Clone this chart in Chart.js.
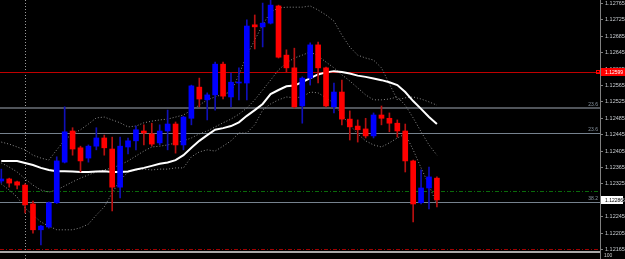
<!DOCTYPE html>
<html>
<head>
<meta charset="utf-8">
<script src="https://cdn.jsdelivr.net/npm/chart.js@4/dist/chart.umd.min.js"></script>
<style>
html, body { margin: 0; padding: 0; background: #000; overflow: hidden; }
#chart { display: block; }
</style>
</head>
<body>
<canvas id="chart" width="625" height="259"></canvas>
<script>
'use strict';

// candles, oldest first
var open = [1.12332, 1.12337, 1.12330, 1.12322, 1.12276, 1.12213, 1.12220, 1.12279, 1.12378, 1.12454,
  1.12413, 1.12388, 1.12417, 1.12437, 1.12410, 1.12317, 1.12415, 1.12430, 1.12454, 1.12447,
  1.12425, 1.12454, 1.12471, 1.12420, 1.12485, 1.12561, 1.12530, 1.12542, 1.12617, 1.12537,
  1.12571, 1.12571, 1.12713, 1.12708, 1.12717, 1.12759, 1.12639, 1.12608, 1.12515, 1.12583,
  1.12664, 1.12608, 1.12513, 1.12549, 1.12483, 1.12466, 1.12459, 1.12442, 1.12493, 1.12485,
  1.12473, 1.12454, 1.12381, 1.12279, 1.12315, 1.12339];
var high = [1.12361, 1.12339, 1.12332, 1.12325, 1.12283, 1.12224, 1.12281, 1.12391, 1.12513, 1.12462,
  1.12417, 1.12420, 1.12462, 1.12444, 1.12439, 1.12439, 1.12437, 1.12466, 1.12469, 1.12473,
  1.12469, 1.12505, 1.12476, 1.12490, 1.12566, 1.12583, 1.12547, 1.12622, 1.12622, 1.12595,
  1.12608, 1.12725, 1.12737, 1.12766, 1.12780, 1.12761, 1.12652, 1.12656, 1.12586, 1.12669,
  1.12671, 1.12610, 1.12571, 1.12578, 1.12503, 1.12481, 1.12485, 1.12498, 1.12515, 1.12498,
  1.12481, 1.12471, 1.12383, 1.12359, 1.12366, 1.12342];
var low = [1.12327, 1.12317, 1.12313, 1.12254, 1.12205, 1.12176, 1.12217, 1.12277, 1.12376, 1.12395,
  1.12354, 1.12378, 1.12408, 1.12395, 1.12259, 1.12291, 1.12398, 1.12408, 1.12420, 1.12417,
  1.12420, 1.12408, 1.12400, 1.12408, 1.12469, 1.12513, 1.12481, 1.12505, 1.12532, 1.12513,
  1.12530, 1.12530, 1.12654, 1.12659, 1.12715, 1.12632, 1.12598, 1.12510, 1.12473, 1.12566,
  1.12571, 1.12513, 1.12498, 1.12469, 1.12432, 1.12427, 1.12437, 1.12437, 1.12469, 1.12452,
  1.12439, 1.12354, 1.12232, 1.12276, 1.12264, 1.12269];
var close = [1.12337, 1.12327, 1.12322, 1.12274, 1.12213, 1.12222, 1.12279, 1.12381, 1.12452, 1.12410,
  1.12381, 1.12417, 1.12437, 1.12413, 1.12317, 1.12417, 1.12430, 1.12457, 1.12449, 1.12422,
  1.12454, 1.12471, 1.12420, 1.12488, 1.12564, 1.12532, 1.12542, 1.12617, 1.12539, 1.12573,
  1.12573, 1.12710, 1.12708, 1.12717, 1.12761, 1.12634, 1.12608, 1.12513, 1.12583, 1.12664,
  1.12608, 1.12515, 1.12549, 1.12483, 1.12464, 1.12457, 1.12442, 1.12493, 1.12485, 1.12473,
  1.12454, 1.12381, 1.12276, 1.12315, 1.12342, 1.12286];

// moving average (white) and the three band lines (dotted)
var ma = [1.12381, 1.12381, 1.12381, 1.12376, 1.12371, 1.12364, 1.12359, 1.12356, 1.12356, 1.12355,
  1.12354, 1.12354, 1.12355, 1.12356, 1.12354, 1.12354, 1.12355, 1.12360, 1.12364, 1.12369,
  1.12374, 1.12377, 1.12383, 1.12395, 1.12413, 1.12430, 1.12444, 1.12457, 1.12461, 1.12466,
  1.12475, 1.12491, 1.12505, 1.12520, 1.12544, 1.12554, 1.12563, 1.12565, 1.12573, 1.12583,
  1.12592, 1.12597, 1.12600, 1.12598, 1.12594, 1.12589, 1.12586, 1.12582, 1.12578, 1.12573,
  1.12566, 1.12549, 1.12527, 1.12508, 1.12488, 1.12471];
var bandUp = [1.12427, 1.12422, 1.12415, 1.12408, 1.12395, 1.12388, 1.12383, 1.12408, 1.12432, 1.12447,
  1.12457, 1.12471, 1.12486, 1.12488, 1.12481, 1.12474, 1.12464, 1.12466, 1.12474, 1.12478,
  1.12481, 1.12483, 1.12488, 1.12493, 1.12505, 1.12517, 1.12530, 1.12537, 1.12544, 1.12549,
  1.12591, 1.12639, 1.12676, 1.12713, 1.12744, 1.12754, 1.12756, 1.12756, 1.12756, 1.12759,
  1.12749, 1.12737, 1.12722, 1.12688, 1.12659, 1.12639, 1.12632, 1.12627, 1.12608, 1.12569,
  1.12530, 1.12535, 1.12537, 1.12532, 1.12525, 1.12517];
var bandMid = [1.12376, 1.12366, 1.12354, 1.12337, 1.12322, 1.12310, 1.12305, 1.12310, 1.12320, 1.12330,
  1.12339, 1.12347, 1.12354, 1.12359, 1.12364, 1.12371, 1.12381, 1.12393, 1.12405, 1.12415,
  1.12417, 1.12420, 1.12425, 1.12430, 1.12437, 1.12447, 1.12454, 1.12464, 1.12474, 1.12483,
  1.12495, 1.12510, 1.12530, 1.12554, 1.12578, 1.12603, 1.12620, 1.12632, 1.12639, 1.12647,
  1.12637, 1.12622, 1.12608, 1.12591, 1.12576, 1.12559, 1.12542, 1.12530, 1.12530, 1.12532,
  1.12537, 1.12517, 1.12486, 1.12452, 1.12420, 1.12395];
var bandLow = [1.12325, 1.12310, 1.12293, 1.12266, 1.12249, 1.12232, 1.12222, 1.12213, 1.12213, 1.12213,
  1.12218, 1.12227, 1.12249, 1.12269, 1.12303, 1.12334, 1.12354, 1.12359, 1.12361, 1.12359,
  1.12361, 1.12361, 1.12364, 1.12364, 1.12391, 1.12403, 1.12408, 1.12405, 1.12417, 1.12430,
  1.12449, 1.12449, 1.12469, 1.12505, 1.12520, 1.12530, 1.12537, 1.12535, 1.12537, 1.12549,
  1.12547, 1.12535, 1.12522, 1.12493, 1.12469, 1.12447, 1.12430, 1.12420, 1.12415, 1.12425,
  1.12437, 1.12447, 1.12408, 1.12364, 1.12322, 1.12274];

// price scale
var priceTicks = [1.12765, 1.12725, 1.12685, 1.12645, 1.12605, 1.12565, 1.12525, 1.12485,
  1.12445, 1.12405, 1.12365, 1.12325, 1.12285, 1.12245, 1.12205, 1.12165];

// horizontal objects on the chart
var levels = [1.12599, 1.12511, 1.12449, 1.12308, 1.12280, 1.12165];
var levelTags = ['', '23.6', '23.6', '', '38.2', ''];
var separatorAt = 3;
var subWindowLabel = '100';

var levelStyle = [
  { color: '#c00000', width: 1, dash: [] },
  { color: '#50545a', width: 2, dash: [] },
  { color: '#76828e', width: 1, dash: [] },
  { color: '#0a6a0a', width: 1, dash: [4, 2, 1, 2] },
  { color: '#76828e', width: 1, dash: [] },
  { color: '#a00000', width: 1, dash: [4, 2, 1, 2] }
];

function points(arr) {
  return arr.map(function(v, i) {
    return { x: i, y: v };
  });
}

function candleColor(dark) {
  return open.map(function(o, i) {
    if (close[i] >= o) {
      return dark ? '#1010b8' : '#0000ff';
    }
    return dark ? '#b81010' : '#ff0000';
  });
}

var overlay = {
  id: 'overlay',
  beforeDatasetsDraw: function(chart) {
    var ctx = chart.ctx;
    var area = chart.chartArea;
    var ys = chart.scales.y;
    var xs = chart.scales.x;
    ctx.save();

    // period separator
    var sx = Math.round(xs.getPixelForValue(separatorAt)) + 0.5;
    ctx.strokeStyle = '#9a9a9a';
    ctx.lineWidth = 1;
    ctx.setLineDash([1, 2]);
    ctx.beginPath();
    ctx.moveTo(sx, 0);
    ctx.lineTo(sx, chart.height);
    ctx.stroke();

    levels.forEach(function(v, i) {
      var s = levelStyle[i];
      var py = Math.round(ys.getPixelForValue(v));
      if (s.width % 2) {
        py += 0.5;
      }
      ctx.strokeStyle = s.color;
      ctx.lineWidth = s.width;
      ctx.setLineDash(s.dash);
      ctx.beginPath();
      ctx.moveTo(area.left, py);
      ctx.lineTo(area.right, py);
      ctx.stroke();
      if (levelTags[i]) {
        ctx.setLineDash([]);
        ctx.fillStyle = '#8a96a2';
        ctx.font = '5px "Liberation Sans Narrow", "Liberation Sans", sans-serif';
        ctx.textAlign = 'right';
        ctx.textBaseline = 'bottom';
        ctx.fillText(levelTags[i], area.right - 2, py - 1);
      }
    });
    ctx.restore();
  },
  afterDraw: function(chart) {
    var ctx = chart.ctx;
    var area = chart.chartArea;
    var ys = chart.scales.y;
    ctx.save();
    ctx.font = '5px "Liberation Sans Narrow", "Liberation Sans", sans-serif';
    ctx.textBaseline = 'middle';
    ctx.textAlign = 'left';

    // sub window separator
    ctx.fillStyle = '#a8a8a8';
    ctx.fillRect(0, area.bottom, area.right, 2);
    ctx.fillStyle = '#808080';
    ctx.fillRect(area.right, area.bottom, 1, chart.height - area.bottom);

    // red level tag
    var ry = Math.round(ys.getPixelForValue(levels[0]));
    ctx.fillStyle = '#ff0000';
    ctx.fillRect(area.right + 1, ry - 4, 24, 8);
    ctx.strokeStyle = '#ff0000';
    ctx.lineWidth = 1;
    ctx.strokeRect(area.right - 3.5, ry - 1.5, 3, 3);
    ctx.fillStyle = '#ffffff';
    ctx.fillText(levels[0].toFixed(5), area.right + 5, ry + 0.5);

    // last price tag
    var last = close[close.length - 1];
    var ly = Math.round(ys.getPixelForValue(last));
    ctx.fillStyle = '#ffffff';
    ctx.fillRect(area.right + 1, ly - 4, 22, 8);
    ctx.fillStyle = '#000000';
    ctx.fillText(last.toFixed(5), area.right + 5, ly + 0.5);

    // sub window scale label
    ctx.fillStyle = '#c8c8c8';
    ctx.fillText(subWindowLabel, area.right + 4, chart.height - 3);
    ctx.restore();
  }
};

var bodies = open.map(function(o, i) {
  return { x: i, y: [o, close[i]] };
});
var wicks = low.map(function(l, i) {
  return { x: i, y: [l, high[i]] };
});

var ctx = document.getElementById('chart').getContext('2d');
var chart = new Chart(ctx, {
  type: 'bar',
  data: {
    datasets: [
      {
        label: 'body',
        data: bodies,
        backgroundColor: candleColor(false),
        barThickness: 5,
        minBarLength: 1,
        grouped: false,
        order: 0
      },
      {
        label: 'wick',
        data: wicks,
        backgroundColor: candleColor(true),
        barThickness: 1,
        grouped: false,
        order: 1
      },
      {
        type: 'line',
        label: 'ma',
        data: points(ma),
        borderColor: '#ffffff',
        borderWidth: 2,
        pointRadius: 0,
        order: 2
      },
      {
        type: 'line',
        label: 'upper',
        data: points(bandUp),
        borderColor: '#8c8c8c',
        borderWidth: 1,
        borderDash: [1, 2],
        pointRadius: 0,
        order: 3
      },
      {
        type: 'line',
        label: 'middle',
        data: points(bandMid),
        borderColor: '#8c8c8c',
        borderWidth: 1,
        borderDash: [1, 2],
        pointRadius: 0,
        order: 3
      },
      {
        type: 'line',
        label: 'lower',
        data: points(bandLow),
        borderColor: '#8c8c8c',
        borderWidth: 1,
        borderDash: [1, 2],
        pointRadius: 0,
        order: 3
      }
    ]
  },
  options: {
    responsive: false,
    animation: false,
    devicePixelRatio: 1,
    layout: { padding: { left: 0, top: 0, right: 0, bottom: 8 } },
    plugins: {
      legend: { display: false },
      tooltip: { enabled: false }
    },
    scales: {
      x: {
        type: 'linear',
        offset: false,
        min: -0.164,
        max: 75.59,
        display: false
      },
      y: {
        type: 'linear',
        position: 'right',
        min: 1.121613,
        max: 1.127735,
        afterBuildTicks: function(scale) {
          scale.ticks = priceTicks.map(function(v) {
            return { value: v };
          });
        },
        afterFit: function(scale) {
          scale.width = 25;
          scale.paddingTop = 0;
          scale.paddingBottom = 0;
        },
        border: { display: true, color: '#808080', width: 1 },
        grid: {
          drawOnChartArea: false,
          drawTicks: true,
          tickLength: 3,
          tickColor: '#808080'
        },
        ticks: {
          autoSkip: false,
          padding: 2,
          color: '#c8ccd0',
          font: { family: '"Liberation Sans Narrow", "Liberation Sans", sans-serif', size: 5.5 },
          callback: function(v) {
            return v.toFixed(5);
          }
        }
      }
    }
  },
  plugins: [overlay]
});
</script>
</body>
</html>
